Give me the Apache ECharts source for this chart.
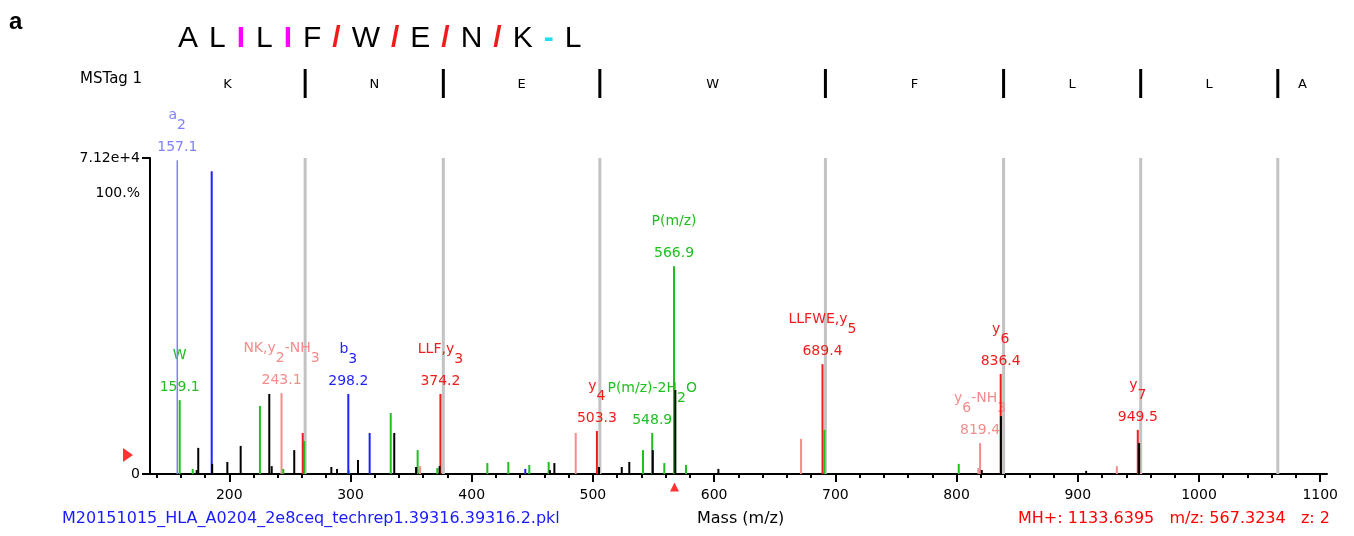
<!DOCTYPE html>
<html>
<head>
<meta charset="utf-8">
<script src="https://cdn.jsdelivr.net/npm/echarts@6/dist/echarts.min.js"></script>
<style>
html, body { margin: 0; padding: 0; background: #fff; }
#chart { width: 1354px; height: 536px; }
</style>
</head>
<body>
<div id="chart"></div>
<script>
// ====================== 数据 ======================
// 峰 [m/z, 相对强度 %, 标注]，标注里 _n 表示下标
var lightBluePeaks = [[157.1, 111.7, 'a_2']];
var bluePeaks = [[185.5, 107.8], [298.2, 28.5, 'b_3'], [315.8, 14.6], [444.2, 1.8]];
var greenPeaks = [
    [159.1, 26.3, 'W'], [169.8, 1.8], [225.3, 24.2], [244.6, 1.8], [261.9, 11.7], [298.5, 1.4],
    [333.2, 21.7], [355.4, 8.5], [371.6, 2.1], [412.9, 3.9], [430.2, 4.3], [447.5, 3.2],
    [463.5, 4.3], [541.3, 8.5], [548.9, 14.6, 'P(m/z)-2H_2O'], [558.9, 3.9], [566.9, 74.0, 'P(m/z)'],
    [576.8, 3.2], [691.0, 15.7], [801.8, 3.6]
];
var redPeaks = [
    [260.6, 14.6], [374.2, 28.5, 'LLF,y_3'], [503.3, 15.3, 'y_4'], [689.4, 39.1, 'LLFWE,y_5'],
    [836.4, 35.6, 'y_6'], [949.5, 15.7, 'y_7']
];
var pinkPeaks = [
    [243.1, 28.8, 'NK,y_2-NH_3'], [357.4, 2.8], [485.8, 14.6], [671.7, 12.5], [818.0, 2.1],
    [819.4, 11.0, 'y_6-NH_3'], [932.2, 2.8]
];
var blackPeaks = [
    [173.1, 1.4], [174.4, 9.3], [185.9, 3.6], [198.4, 4.3], [209.4, 10.0], [233.0, 28.5],
    [235.0, 2.8], [253.6, 8.5], [284.2, 2.5], [288.9, 1.8], [306.2, 5.0], [336.1, 14.6],
    [354.1, 2.5], [373.5, 2.8], [464.5, 1.4], [468.2, 3.9], [505.0, 2.5], [523.8, 2.5],
    [530.0, 4.3], [549.4, 8.5], [568.0, 29.9], [603.5, 1.8], [820.8, 1.4], [836.6, 20.6],
    [906.9, 1.1], [950.6, 11.0]
];

// MSTag 分隔位置和残基
var tagMasses = [262.6, 376.6, 505.7, 691.8, 838.8, 951.9, 1065.0];
var tagLetters = ['K', 'N', 'E', 'W', 'F', 'L', 'L', 'A'];

// 序列和断裂标记 (m 紫, r 红, c 青, '' 无)
var residues = ['A', 'L', 'L', 'F', 'W', 'E', 'N', 'K', 'L'];
var cutMarks = ['', 'm', 'm', 'r', 'r', 'r', 'r', 'c'];
var markChars = { m: 'I', r: '/', c: '-' };

// 坐标轴
var xMin = 134.6, xMax = 1105.6;
var xMajorTicks = [200, 300, 400, 500, 600, 700, 800, 900, 1000, 1100];
var xMinorTicks = [];
for (var t = 140; t <= 1100; t += 20) { xMinorTicks.push(t); }
var yTop = 112.5;
var yTickValues = [0, 100, 112.5];
var yTickLabels = ['0', '100.%', '7.12e+4'];

var precursorMz = 567.3234;
var thresholdLevel = 6.8;

var FONT = '"DejaVu Sans", sans-serif';
var SEQ_FONT = '"Liberation Sans", Arial, sans-serif';

// ====================== 绘制 ======================
function toRich(name) {
    var parts = name.split(/_(\d)/);
    var s = '';
    for (var i = 0; i < parts.length; i++) {
        if (!parts[i]) continue;
        s += (i % 2 ? '{s|' : '{b|') + parts[i] + '}';
    }
    return s;
}

function peakSeries(list, color, width) {
    return {
        type: 'custom',
        xAxisIndex: 0,
        yAxisIndex: 0,
        data: list.map(function (p) { return [p[0], p[1]]; }),
        renderItem: function (params, api) {
            var p = list[params.dataIndex];
            var top = api.coord([p[0], p[1]]);
            var base = api.coord([p[0], 0]);
            var children = [{
                type: 'line',
                shape: { x1: top[0], y1: top[1], x2: base[0], y2: base[1] },
                style: { stroke: color, lineWidth: width }
            }];
            if (p[2]) {
                children.push({
                    type: 'text',
                    x: top[0], y: top[1] - 13,
                    style: { text: p[0].toFixed(1), fill: color, font: '14px ' + FONT, align: 'center', verticalAlign: 'middle' }
                });
                children.push({
                    type: 'text',
                    x: top[0], y: top[1] - 52,
                    style: {
                        text: toRich(p[2]), fill: color, font: '14px ' + FONT, align: 'center', verticalAlign: 'top',
                        rich: {
                            b: { fontSize: 14, fontFamily: FONT, lineHeight: 14, verticalAlign: 'top', fill: color },
                            s: { fontSize: 14, fontFamily: FONT, lineHeight: 24, verticalAlign: 'bottom', fill: color }
                        }
                    }
                });
            }
            return { type: 'group', children: children };
        }
    };
}

var seqText = '';
for (var i = 0; i < residues.length; i++) {
    var mk = cutMarks[i];
    if (i < cutMarks.length && !mk) {
        seqText += '{kp|' + residues[i] + '}';
    } else {
        seqText += '{k|' + residues[i] + '}';
    }
    if (mk) seqText += '{' + mk + '|' + markChars[mk] + '}';
}

var tagMids = [];
var bounds = [xMin].concat(tagMasses).concat([xMax]);
for (var j = 0; j < tagLetters.length; j++) {
    tagMids.push([(bounds[j] + bounds[j + 1]) / 2, 0.5]);
}

var myChart = echarts.init(document.getElementById('chart'));

var option = {
    animation: false,
    backgroundColor: '#fff',
    grid: [
        { left: 150, right: 27, top: 158, bottom: 62 },
        { left: 150, right: 27, top: 69, height: 29 },
        { left: 150, right: 27, top: 158, bottom: 62 }
    ],
    xAxis: [{
        gridIndex: 0,
        type: 'value',
        min: xMin,
        max: xMax,
        axisLine: { show: true, onZero: false, lineStyle: { color: '#000', width: 2 } },
        axisTick: { show: true, customValues: xMajorTicks, length: 8, lineStyle: { color: '#000', width: 2 } },
        axisLabel: {
            customValues: xMajorTicks, color: '#000', fontSize: 14, fontFamily: FONT, margin: 14,
            formatter: function (v) { return String(v); }
        },
        splitLine: { show: false }
    }, {
        gridIndex: 1,
        type: 'value',
        min: xMin,
        max: xMax,
        show: false
    }, {
        gridIndex: 2,
        type: 'value',
        min: xMin,
        max: xMax,
        axisLine: { show: false },
        axisTick: { show: true, customValues: xMinorTicks, length: 4, lineStyle: { color: '#000', width: 2 } },
        axisLabel: { show: false },
        splitLine: { show: false }
    }],
    yAxis: [{
        gridIndex: 0,
        type: 'value',
        min: 0,
        max: yTop,
        axisLine: { show: true, lineStyle: { color: '#000', width: 2 } },
        axisTick: { show: true, customValues: [0, yTop], length: 8, lineStyle: { color: '#000', width: 2 } },
        axisLabel: {
            customValues: yTickValues,
            color: '#000', fontSize: 14, fontFamily: FONT, margin: 10,
            formatter: function (v) {
                for (var k = 0; k < yTickValues.length; k++) {
                    if (Math.abs(yTickValues[k] - v) < 0.01) return yTickLabels[k];
                }
                return '';
            }
        },
        splitLine: { show: false }
    }, {
        gridIndex: 1, type: 'value', min: 0, max: 1, show: false
    }, {
        gridIndex: 2, type: 'value', min: 0, max: yTop, show: false
    }],
    graphic: [
        { type: 'text', left: 9, top: 10, style: { text: 'a', font: 'bold 24px ' + SEQ_FONT, fill: '#000' } },
        {
            type: 'text', left: 178, top: 24,
            style: {
                text: seqText,
                rich: {
                    k: { fontSize: 30, fontFamily: SEQ_FONT, fill: '#000' },
                    kp: { fontSize: 30, fontFamily: SEQ_FONT, fill: '#000', padding: [0, 11, 0, 0] },
                    m: { fontSize: 30, fontFamily: SEQ_FONT, fontWeight: 'bold', fill: '#ff00ff', padding: [0, 11, 0, 11] },
                    r: { fontSize: 30, fontFamily: SEQ_FONT, fontWeight: 'bold', fill: '#f01c1c', padding: [0, 11, 0, 11] },
                    c: { fontSize: 30, fontFamily: SEQ_FONT, fontWeight: 'bold', fill: '#1ee0f0', padding: [0, 11, 0, 11] }
                }
            }
        },
        { type: 'text', left: 80, top: 72, style: { text: 'MSTag 1', font: '15px ' + FONT, fill: '#000' } },
        { type: 'text', left: 62, top: 511, style: { text: 'M20151015_HLA_A0204_2e8ceq_techrep1.39316.39316.2.pkl', font: '16px ' + FONT, fill: '#1a1aff' } },
        { type: 'text', left: 697, top: 511, style: { text: 'Mass (m/z)', font: '16px ' + FONT, fill: '#000' } },
        { type: 'text', right: 24, top: 511, style: { text: 'MH+: 1133.6395   m/z: 567.3234   z: 2', font: '16px ' + FONT, fill: '#ff0000' } }
    ],
    series: [
        // 灰色 MSTag 分隔线
        {
            type: 'custom',
            xAxisIndex: 0, yAxisIndex: 0,
            data: tagMasses.map(function (m) { return [m, 0]; }),
            renderItem: function (params, api) {
                var m = tagMasses[params.dataIndex];
                var a = api.coord([m, yTop]), b = api.coord([m, 0]);
                return { type: 'line', shape: { x1: a[0], y1: a[1], x2: b[0], y2: b[1] }, style: { stroke: '#c3c3c3', lineWidth: 3 } };
            }
        },
        // 顶部 MSTag 行
        {
            type: 'custom',
            xAxisIndex: 1, yAxisIndex: 1,
            data: tagMasses.map(function (m) { return [m, 0]; }),
            renderItem: function (params, api) {
                var m = tagMasses[params.dataIndex];
                var a = api.coord([m, 0]), b = api.coord([m, 1]);
                return { type: 'line', shape: { x1: a[0], y1: a[1], x2: b[0], y2: b[1] }, style: { stroke: '#000', lineWidth: 3 } };
            }
        },
        {
            type: 'custom',
            xAxisIndex: 1, yAxisIndex: 1,
            data: tagMids,
            renderItem: function (params, api) {
                var c = api.coord(tagMids[params.dataIndex]);
                return {
                    type: 'text', x: c[0], y: c[1] + 1,
                    style: { text: tagLetters[params.dataIndex], font: '13px ' + FONT, fill: '#000', align: 'center', verticalAlign: 'middle' }
                };
            }
        },
        peakSeries(pinkPeaks, '#f58c8c', 2),
        peakSeries(greenPeaks, '#1fbf1f', 2),
        peakSeries(lightBluePeaks, '#8080ff', 1.5),
        peakSeries(bluePeaks, '#1f1fff', 2),
        peakSeries(redPeaks, '#f01c1c', 2),
        peakSeries(blackPeaks, '#000', 2),
        // 母离子和阈值标记
        {
            type: 'scatter',
            xAxisIndex: 0, yAxisIndex: 0,
            clip: false,
            symbol: 'triangle',
            symbolSize: [9, 9],
            symbolOffset: [0, 13],
            itemStyle: { color: '#ff0000' },
            data: [[precursorMz, 0]]
        },
        {
            type: 'scatter',
            xAxisIndex: 0, yAxisIndex: 0,
            clip: false,
            symbol: 'triangle',
            symbolSize: [14, 10],
            symbolRotate: -90,
            symbolOffset: [-22, 0],
            itemStyle: { color: '#ff0000' },
            data: [[xMin, thresholdLevel]]
        }
    ]
};

myChart.setOption(option);
</script>
</body>
</html>
